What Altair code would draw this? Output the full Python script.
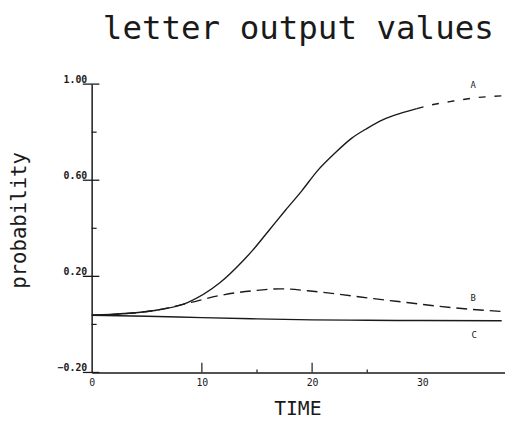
import altair as alt
import pandas as pd

# ---- data ----
a_t = [0, 5.7, 8.7, 11.6, 13.8, 14.6, 16.1, 17.6, 19.1, 20.5, 22.1, 23.6, 25.0, 26.5, 28.0, 29.5, 31.0, 32.5, 34.8, 37.2]
a_v = [0.038, 0.058, 0.091, 0.172, 0.268, 0.308, 0.392, 0.476, 0.558, 0.640, 0.714, 0.775, 0.816, 0.853, 0.878, 0.898, 0.915, 0.927, 0.943, 0.951]
a_dash_from = 29.5

b_t = [0, 5.7, 8.7, 11.6, 14.6, 17.2, 19.6, 22.7, 25.6, 28.6, 31.6, 34.6, 37.2]
b_v = [0.038, 0.058, 0.088, 0.120, 0.140, 0.148, 0.140, 0.124, 0.107, 0.091, 0.075, 0.062, 0.054]

c_t = [0, 5, 10, 15, 20, 25, 30, 37.2]
c_v = [0.038, 0.034, 0.028, 0.023, 0.019, 0.017, 0.016, 0.015]

label_names = ["A", "B", "C"]
label_t = [34.6, 34.6, 34.7]
label_v = [0.995, 0.108, -0.044]

title_text = ["letter output values"]

y_major = [1.0, 0.6, 0.2, -0.2]
y_minor = [0.8, 0.4, 0.0]
x_major = [10, 20]
x_minor = [15, 25]
x_labels = [0, 10, 20, 30]

MONO = "DejaVu Sans Mono"
INK = "#1a1a1a"

xs = alt.Scale(domain=[0, 37.5], nice=False, zero=False)
ys = alt.Scale(domain=[-0.2, 1.0], nice=False, zero=False)

xaxis = alt.Axis(values=x_labels, format="d", ticks=False, grid=False,
                 domainColor=INK, domainWidth=1.5, labelFont=MONO, labelFontSize=10,
                 labelColor=INK, labelPadding=5, labelFlush=False,
                 title="TIME", titleFont=MONO, titleFontSize=20, titleFontWeight="normal",
                 titleColor=INK, titleX=209, titleY=37, titleAlign="center",
                 titleBaseline="middle")
yaxis = alt.Axis(values=y_major, format=".2f", ticks=False, grid=False,
                 domainColor=INK, domainWidth=1.5, labelFont=MONO, labelFontSize=10,
                 labelFontWeight="bold", labelColor=INK, labelPadding=5,
                 labelBaseline="bottom", labelFlush=False,
                 title="probability", titleFont=MONO, titleFontSize=21,
                 titleFontWeight="normal", titleColor=INK, titleX=-73, titleY=138,
                 titleAngle=270, titleAlign="center", titleBaseline="middle")

X = alt.X("t:Q", scale=xs, axis=xaxis)
Y = alt.Y("v:Q", scale=ys, axis=yaxis)

dfa = pd.DataFrame({"t": a_t, "v": a_v})
a_solid = dfa[dfa.t <= a_dash_from]
a_dash = dfa[dfa.t >= a_dash_from]
dfb = pd.DataFrame({"t": b_t, "v": b_v})
dfc = pd.DataFrame({"t": c_t, "v": c_v})
dfl = pd.DataFrame({"t": label_t, "v": label_v, "name": label_names})

line_a1 = alt.Chart(a_solid).mark_line(color=INK, strokeWidth=1.4, clip=True,
                                       interpolate="monotone").encode(x=X, y=Y)
line_a2 = alt.Chart(a_dash).mark_line(color=INK, strokeWidth=1.4, strokeDash=[7, 9], clip=True,
                                      interpolate="monotone").encode(x=X, y=Y)
line_b = alt.Chart(dfb).mark_line(color=INK, strokeWidth=1.4, strokeDash=[11, 6], clip=True,
                                  interpolate="monotone").encode(x=X, y=Y)
line_c = alt.Chart(dfc).mark_line(color=INK, strokeWidth=1.4, clip=True,
                                  interpolate="monotone").encode(x=X, y=Y)

labels = alt.Chart(dfl).mark_text(font=MONO, fontSize=9, color=INK, baseline="middle",
                                  align="center").encode(x=X, y=Y, text="name:N")

title = alt.Chart(pd.DataFrame({"title": title_text})).mark_text(
    font=MONO, fontSize=33, color=INK, align="center", baseline="alphabetic"
).encode(x=alt.value(210), y=alt.value(-46), text="title:N")

# axis tick marks (major ticks cross the y axis, x ticks point inward)
ymaj = pd.DataFrame({"v": y_major, "t": [-0.8] * len(y_major), "t2": [0.7] * len(y_major)})
ymin = pd.DataFrame({"v": y_minor, "t": [0.0] * len(y_minor), "t2": [0.45] * len(y_minor)})
xmaj = pd.DataFrame({"t": x_major, "v": [-0.2] * len(x_major), "v2": [-0.16] * len(x_major)})
xmin = pd.DataFrame({"t": x_minor, "v": [-0.2] * len(x_minor), "v2": [-0.188] * len(x_minor)})

t_ymaj = alt.Chart(ymaj).mark_rule(color=INK, strokeWidth=1.3).encode(x=X, x2="t2:Q", y=Y)
t_ymin = alt.Chart(ymin).mark_rule(color=INK, strokeWidth=1.2).encode(x=X, x2="t2:Q", y=Y)
t_xmaj = alt.Chart(xmaj).mark_rule(color=INK, strokeWidth=1.2).encode(x=X, y=Y, y2="v2:Q")
t_xmin = alt.Chart(xmin).mark_rule(color=INK, strokeWidth=1.2).encode(x=X, y=Y, y2="v2:Q")

chart = alt.layer(
    line_c, line_b, line_a1, line_a2, labels, title, t_ymaj, t_ymin, t_xmaj, t_xmin
).properties(
    width=420, height=293,
    autosize=alt.AutoSizeParams(type="none"),
    padding={"left": 85, "top": 74, "right": 0, "bottom": 46},
).configure(background="white").configure_view(stroke=None)

chart.save("out.html", embed_options={"renderer": "svg", "actions": False})
